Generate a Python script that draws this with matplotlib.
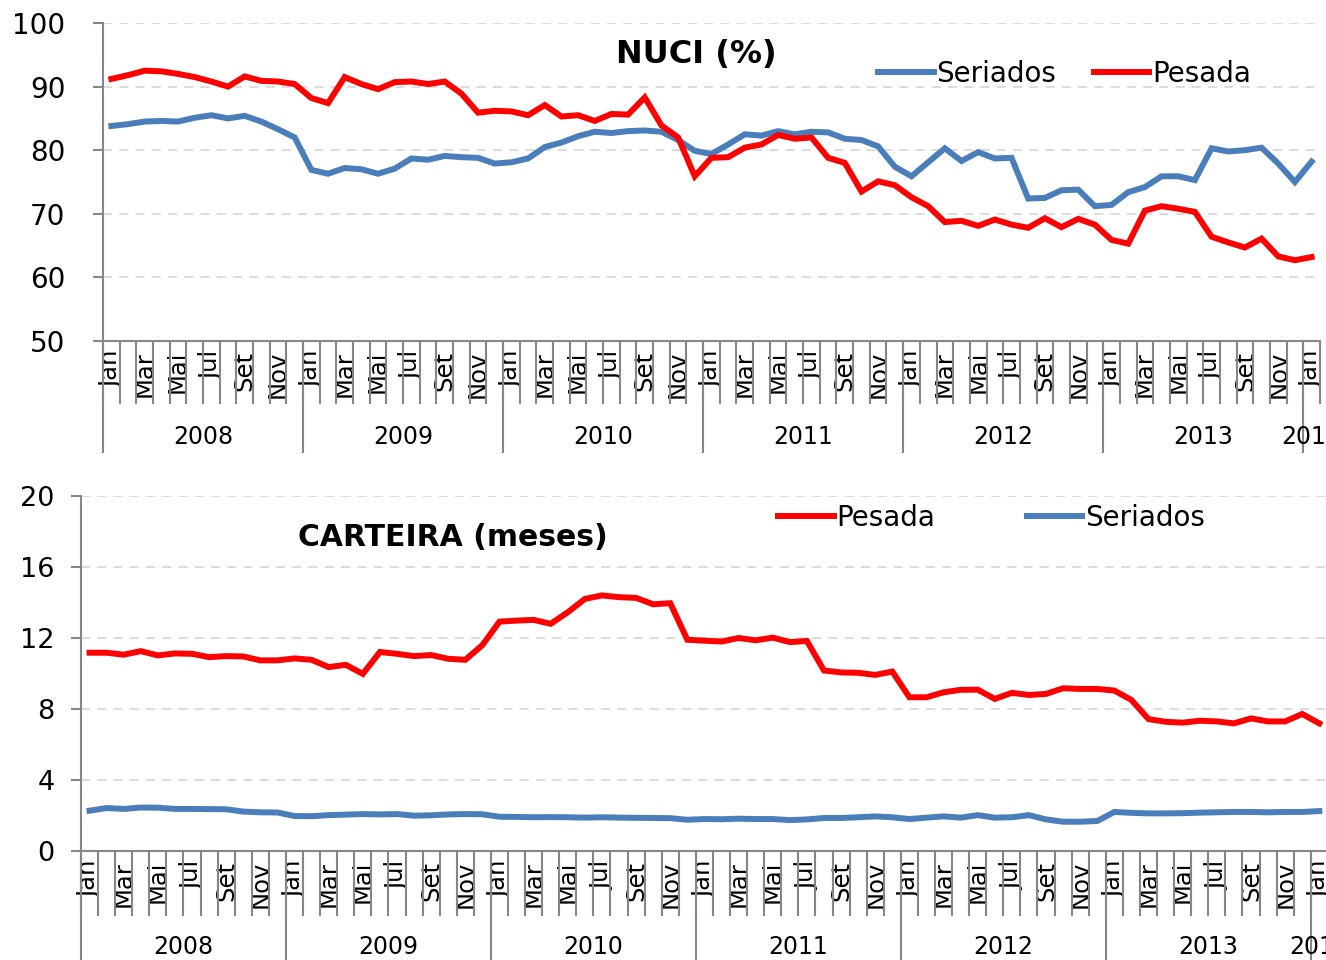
import numpy as np
import matplotlib
matplotlib.use('Agg')
import matplotlib.pyplot as plt

# month names (pt-BR) and years covered
MONTHS = ['Jan', 'Fev', 'Mar', 'Abr', 'Mai', 'Jun', 'Jul', 'Ago', 'Set', 'Out', 'Nov', 'Dez']
YEARS = ['2008', '2009', '2010', '2011', '2012', '2013', '2014']

# NUCI (%) - jan/2008 .. jan/2014
nuci_seriados = [83.8, 84.1, 84.5, 84.6, 84.5, 85.1, 85.5, 85.0, 85.4, 84.5, 83.3, 82.0,
                 76.9, 76.3, 77.2, 77.0, 76.3, 77.1, 78.7, 78.5, 79.1, 78.9, 78.8, 77.9,
                 78.1, 78.7, 80.5, 81.2, 82.2, 82.9, 82.7, 83.0, 83.1, 82.9, 81.6, 79.9,
                 79.4, 80.9, 82.5, 82.3, 83.0, 82.5, 82.9, 82.8, 81.8, 81.6, 80.6, 77.4,
                 75.9, 78.1, 80.3, 78.3, 79.7, 78.7, 78.8, 72.4, 72.5, 73.7, 73.8, 71.2,
                 71.4, 73.4, 74.2, 75.9, 75.9, 75.3, 80.3, 79.8, 80.0, 80.4, 77.9, 75.0,
                 78.2]
nuci_pesada = [91.2, 91.8, 92.5, 92.4, 92.0, 91.5, 90.8, 90.0, 91.6, 90.9, 90.8, 90.4,
               88.2, 87.4, 91.5, 90.4, 89.6, 90.7, 90.8, 90.4, 90.8, 88.9, 85.9, 86.2,
               86.1, 85.5, 87.1, 85.3, 85.5, 84.6, 85.7, 85.6, 88.3, 83.9, 82.0, 75.9,
               78.8, 78.9, 80.4, 80.9, 82.4, 81.8, 82.0, 78.8, 78.0, 73.5, 75.1, 74.5,
               72.6, 71.2, 68.7, 68.9, 68.1, 69.1, 68.3, 67.8, 69.3, 67.9, 69.2, 68.3,
               65.9, 65.3, 70.5, 71.2, 70.8, 70.3, 66.4, 65.5, 64.7, 66.1, 63.3, 62.7,
               63.2]

# CARTEIRA (meses)
carteira_pesada = [11.17, 11.17, 11.06, 11.26, 11.02, 11.13, 11.11, 10.92, 10.98, 10.96, 10.74, 10.74,
                   10.85, 10.77, 10.36, 10.49, 9.98, 11.21, 11.11, 10.98, 11.04, 10.83, 10.77, 11.6,
                   12.92, 12.98, 13.02, 12.8, 13.45, 14.2, 14.4, 14.3, 14.26, 13.9, 13.96, 11.9,
                   11.85, 11.8, 12.0, 11.87, 12.02, 11.77, 11.83, 10.17, 10.06, 10.04, 9.92, 10.11,
                   8.66, 8.66, 8.94, 9.08, 9.09, 8.57, 8.91, 8.79, 8.85, 9.17, 9.13, 9.13,
                   9.04, 8.51, 7.43, 7.28, 7.23, 7.34, 7.3, 7.19, 7.47, 7.3, 7.3, 7.72,
                   7.19]
carteira_seriados = [2.27, 2.42, 2.37, 2.45, 2.44, 2.37, 2.37, 2.36, 2.35, 2.22, 2.18, 2.17,
                     1.97, 1.96, 2.02, 2.05, 2.08, 2.06, 2.08, 1.99, 2.01, 2.06, 2.08, 2.07,
                     1.93, 1.92, 1.90, 1.91, 1.90, 1.88, 1.90, 1.88, 1.87, 1.86, 1.85, 1.76,
                     1.80, 1.79, 1.82, 1.80, 1.80, 1.74, 1.78, 1.86, 1.86, 1.90, 1.95, 1.90,
                     1.80, 1.88, 1.95, 1.88, 2.02, 1.88, 1.90, 2.02, 1.78, 1.65, 1.65, 1.69,
                     2.20, 2.15, 2.12, 2.12, 2.13, 2.16, 2.18, 2.20, 2.20, 2.18, 2.20, 2.20,
                     2.25]

RED = '#ff0000'
BLUE = '#4a7ebb'
GRAY = '#868686'

n = len(nuci_seriados)
x = np.arange(n)
month_labels = [MONTHS[i % 12] if i % 2 == 0 else '' for i in range(n)]

plt.rcParams['font.family'] = ['DejaVu Sans']

fig = plt.figure(figsize=(13.26, 9.6), dpi=100)
W, H = 1326.0, 960.0


def setup_axis(ax, yticks, ylab_size, ylab_pad, month_len, year_len, year_y):
    ax.set_xlim(-0.5, n - 0.5)
    ax.set_ylim(yticks[0], yticks[-1])
    ax.set_yticks(yticks)
    ax.yaxis.grid(True, linestyle=(0, (5, 4)), color='#d9d9d9', linewidth=1.3)
    ax.set_axisbelow(True)
    for s in ['top', 'right']:
        ax.spines[s].set_visible(False)
    for s in ['left', 'bottom']:
        ax.spines[s].set_color(GRAY)
        ax.spines[s].set_linewidth(1.5)
    ax.tick_params(axis='y', length=7, width=1.5, color=GRAY,
                   labelsize=ylab_size, pad=ylab_pad)
    # month labels at category centres, separator ticks between categories
    ax.set_xticks(x)
    ax.set_xticklabels(month_labels, rotation=90, fontsize=17.5)
    ax.tick_params(axis='x', which='major', length=0, pad=7)
    ax.set_xticks(np.arange(-0.5, n, 1), minor=True)
    ax.tick_params(axis='x', which='minor', length=month_len, width=1.5, color=GRAY)
    # year separators and labels
    trans = ax.get_xaxis_transform()
    for k in range(len(YEARS)):
        b = -0.5 + 12 * k
        ax.plot([b, b], [0, -year_len], color=GRAY, lw=1.5,
                transform=trans, clip_on=False)
        last = min(12 * k + 11, n - 1)
        ax.text((12 * k + last) / 2.0, year_y, YEARS[k], transform=trans,
                ha='center', va='center', fontsize=17, clip_on=False)


# ---- NUCI panel
ax1 = fig.add_axes([103 / W, 1 - 341 / H, n * 16.67 / W, 318 / H])
l1, = ax1.plot(x, nuci_seriados, color=BLUE, lw=4.3, solid_joinstyle='miter')
l2, = ax1.plot(x, nuci_pesada, color=RED, lw=4.3, solid_joinstyle='miter')
setup_axis(ax1, [50, 60, 70, 80, 90, 100], 20, 20, 45, 111 / 318, -96 / 318)
fig.text(696 / W, 1 - 54 / H, 'NUCI (%)', ha='center', va='center',
         fontsize=23, fontweight='bold')
fig.legend([l1, l2], ['Seriados', 'Pesada'], loc='center left',
           bbox_to_anchor=(878 / W, 1 - 74 / H), ncol=2, frameon=False,
           fontsize=20, handlelength=2.0, handletextpad=0.1, columnspacing=1.35,
           borderpad=0, borderaxespad=0)

# ---- CARTEIRA panel
ax2 = fig.add_axes([81 / W, 1 - 851 / H, n * 17.08 / W, 355 / H])
l3, = ax2.plot(x, carteira_pesada, color=RED, lw=4.3, solid_joinstyle='miter')
l4, = ax2.plot(x, carteira_seriados, color=BLUE, lw=4.3, solid_joinstyle='miter')
setup_axis(ax2, [0, 4, 8, 12, 16, 20], 19.5, 12, 47, 0.4, -96 / 355)
fig.text(453 / W, 1 - 537 / H, 'CARTEIRA (meses)', ha='center', va='center',
         fontsize=21.5, fontweight='bold')
fig.legend([l3, l4], ['Pesada', 'Seriados'], loc='center left',
           bbox_to_anchor=(778 / W, 1 - 518 / H), ncol=2, frameon=False,
           fontsize=20, handlelength=2.0, handletextpad=0.1, columnspacing=3.3,
           borderpad=0, borderaxespad=0)

fig.savefig('out.png', dpi=100)
